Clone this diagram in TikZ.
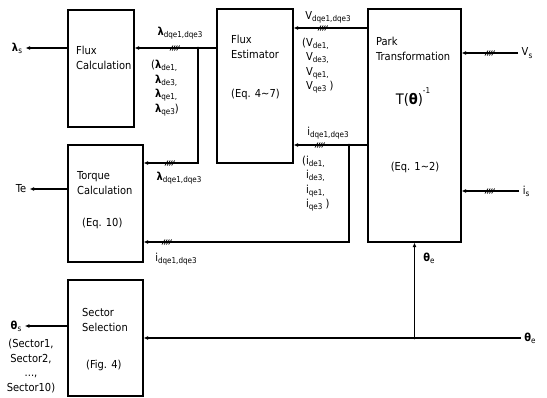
\documentclass[tikz,border=0pt]{standalone}
\usepackage{fontspec}
\setmainfont{DejaVu Sans Condensed}
\usetikzlibrary{arrows.meta}
\newcommand{\subs}[1]{\raisebox{-0.35ex}{\fontsize{8}{9}\selectfont #1}}
\newcommand{\blam}{{\bfseries λ}}
\newcommand{\bthe}{{\bfseries θ}}
\tikzset{
 blk/.style={draw,line width=1.1pt,inner sep=0pt},
 arr/.style={line width=1.1pt,-{Latex[length=4.5pt,width=4pt]}},
 txt/.style={align=left,anchor=west,inner sep=0pt},
 bus/.pic={\foreach \k in {0,...,3} \draw[line width=0.7pt] (\k*2.2-5,2.5)--++(3,-5);}
}
\begin{document}
\begin{tikzpicture}[x=1pt,y=-1pt,font=\fontsize{11}{14.5}\selectfont]
\useasboundingbox (0,0) rectangle (547,397);
% blocks
\node[blk,minimum width=66,minimum height=117] (fcalc) at (101,68.5) {};
\node[blk,minimum width=75,minimum height=117] (torque) at (105.5,203.5) {};
\node[blk,minimum width=75,minimum height=116] (sector) at (105.5,338) {};
\node[blk,minimum width=76,minimum height=154] (fest) at (255,86) {};
\node[blk,minimum width=93,minimum height=233] (park) at (414.5,125.5) {};
% block texts
\node[txt] (fcalct) at (76,58) {Flux\\Calculation};
\node[txt] (torquet) at (77,183) {Torque\\Calculation};
\node[txt] (torquee) at (82,223) {(Eq. 10)};
\node[txt] (sectort) at (82,320) {Sector\\Selection};
\node[txt] (sectore) at (86,365) {(Fig. 4)};
\node[txt] (festt) at (231,47) {Flux\\Estimator};
\node[txt] (feste) at (231,94) {(Eq. 4\textasciitilde7)};
\node[txt] (parkt) at (376,49) {Park\\Transformation};
\node (tinv) at (413,97) {\fontsize{14.5}{16}\selectfont T(\textbf{θ})\raisebox{1.3ex}{\fontsize{8}{9}\selectfont -1}};
\node (parke) at (415,167) {(Eq. 1\textasciitilde2)};
% outer labels
\node (lams) at (17,48) {\blam\subs{s}};
\node (te) at (21,189) {Te};
\node (thes) at (16,326) {\bthe\subs{s}};
\node[align=center,inner sep=0pt] (seclist) at (31,366) {(Sector1,\\Sector2,\\...,\\Sector10)};
\node (vs) at (527,53) {V\subs{s}};
\node (is) at (526,191) {i\subs{s}};
\node (thee) at (530,338) {\bthe\subs{e}};
\node (thep) at (429,258) {\bthe\subs{e}};
% signal labels
\node (lamtop) at (180,33) {\blam\subs{dqe1,dqe3}};
\node (lamlow) at (179,178) {\blam\subs{dqe1,dqe3}};
\node[txt] (lamlist) at (151,88) {(\blam\subs{de1,}\\\hphantom{(}\blam\subs{de3,}\\\hphantom{(}\blam\subs{qe1,}\\\hphantom{(}\blam\subs{qe3})};
\node (vtop) at (328,17) {V\subs{dqe1,dqe3}};
\node[txt] (vlist) at (302,65.5) {(V\subs{de1,}\\\hphantom{(}V\subs{de3,}\\\hphantom{(}V\subs{qe1,}\\\hphantom{(}V\subs{qe3} )};
\node (itop) at (328,133) {i\subs{dqe1,dqe3}};
\node[txt] (ilist) at (302,183.5) {(i\subs{de1,}\\\hphantom{(}i\subs{de3,}\\\hphantom{(}i\subs{qe1,}\\\hphantom{(}i\subs{qe3} )};
\node (ilow) at (176,259) {i\subs{dqe1,dqe3}};
% junctions
\coordinate (lamj) at (198,48);
\coordinate (lamt) at (198,163);
\coordinate (vy) at (0,28);
\coordinate (ij) at (349,145);
\coordinate (it) at (349,242);
\coordinate (thj) at (park.south|-thee);
% connectors
\draw[arr] (fcalc.west|-lams) -- (lams);
\draw[arr] (torque.west|-te) -- (te);
\draw[arr] (sector.west|-thes) -- (thes);
\draw[arr] (fest.west|-lamj) -- (fcalc.east|-lamj);
\draw[arr] (lamj) -- (lamt) -- (torque.east|-lamt);
\draw[arr] (park.west|-vy) -- (fest.east|-vy);
\draw[arr] (park.west|-ij) -- (fest.east|-ij);
\draw[arr] (ij) -- (it) -- (torque.east|-it);
\draw[arr] (vs) -- (park.east|-vs);
\draw[arr] (is) -- (park.east|-is);
\draw[arr] (thee) -- (sector.east|-thee);
\draw[arr] (thj) -- (park.south);
\foreach \c in {lamj,ij,thj} \fill (\c) circle (1.4pt);
% bus marks
\foreach \p in {{(175,48)},{(170,163)},{(323,28)},{(320,145)},{(167,242)},{(490,53)},{(490,191)}}
 \pic at \p {bus};
\end{tikzpicture}
\end{document}
